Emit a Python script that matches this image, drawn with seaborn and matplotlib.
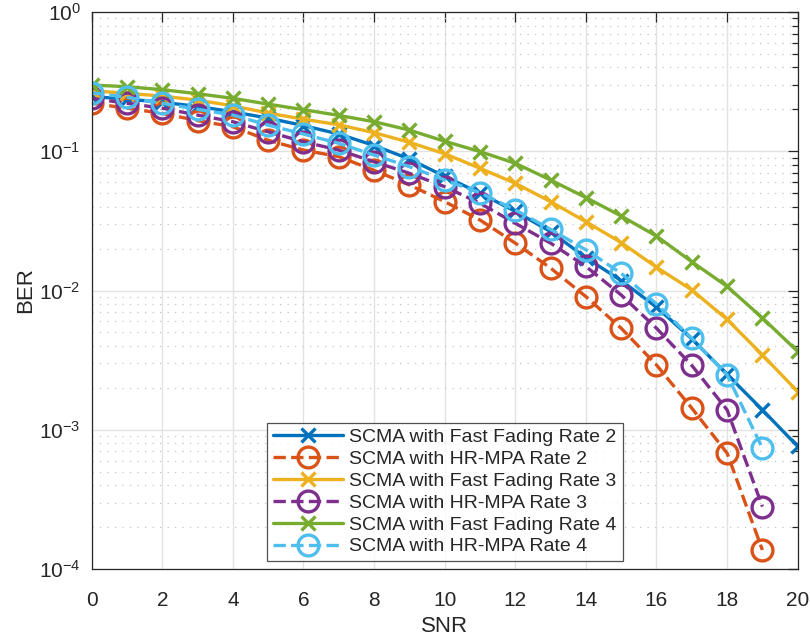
import numpy as np
import pandas as pd
import matplotlib
matplotlib.use("Agg")
import matplotlib.pyplot as plt
import seaborn as sns
from matplotlib.ticker import LogLocator, FixedLocator, NullFormatter

# SNR points
snr_ff = list(range(0, 21))
snr_hr = list(range(0, 20))

# BER, fast fading receivers
ber_ff_rate2 = [0.247, 0.237, 0.225, 0.210, 0.192, 0.173, 0.153, 0.133, 0.110, 0.088,
                0.066, 0.050, 0.037, 0.0265, 0.0172, 0.0118, 0.0076, 0.0045, 0.0025,
                0.00139, 0.00076]
ber_ff_rate3 = [0.272, 0.261, 0.249, 0.233, 0.212, 0.188, 0.170, 0.155, 0.136, 0.116,
                0.096, 0.0755, 0.0589, 0.0435, 0.0312, 0.0221, 0.0147, 0.0101, 0.0062,
                0.00345, 0.00188]
ber_ff_rate4 = [0.299, 0.291, 0.277, 0.259, 0.240, 0.218, 0.199, 0.181, 0.163, 0.142,
                0.118, 0.0995, 0.082, 0.0622, 0.0465, 0.0343, 0.0246, 0.0161, 0.0107,
                0.00636, 0.00365]

# BER, HR-MPA receivers
ber_hr_rate2 = [0.221, 0.204, 0.187, 0.166, 0.150, 0.120, 0.102, 0.0915, 0.073, 0.0573,
                0.0435, 0.0321, 0.0219, 0.0145, 0.00904, 0.00536, 0.00292, 0.00143,
                0.00068, 0.000137]
ber_hr_rate3 = [0.240, 0.221, 0.204, 0.182, 0.163, 0.138, 0.117, 0.102, 0.084, 0.0695,
                0.0557, 0.0423, 0.0304, 0.0219, 0.0149, 0.00929, 0.00536, 0.0029,
                0.00139, 0.000281]
ber_hr_rate4 = [0.263, 0.244, 0.221, 0.200, 0.182, 0.154, 0.133, 0.114, 0.094, 0.0775,
                0.0622, 0.0504, 0.0379, 0.0275, 0.0196, 0.0133, 0.0080, 0.00454,
                0.00248, 0.000738]

labels = ["SCMA with Fast Fading Rate 2", "SCMA with HR-MPA Rate 2",
          "SCMA with Fast Fading Rate 3", "SCMA with HR-MPA Rate 3",
          "SCMA with Fast Fading Rate 4", "SCMA with HR-MPA Rate 4"]

sns.set_style("white")
plt.rcParams["font.family"] = ["Liberation Sans", "DejaVu Sans"]
plt.rcParams["mathtext.default"] = "regular"

series = [
    (snr_ff, ber_ff_rate2, "#0072BD", "x", "-"),
    (snr_hr, ber_hr_rate2, "#D95319", "o", "--"),
    (snr_ff, ber_ff_rate3, "#EDB120", "x", "-"),
    (snr_hr, ber_hr_rate3, "#7E2F8E", "o", "--"),
    (snr_ff, ber_ff_rate4, "#77AC30", "x", "-"),
    (snr_hr, ber_hr_rate4, "#4DBEEE", "o", "--"),
]

fig = plt.figure(figsize=(8.1, 6.4), dpi=100)
ax = fig.add_axes([0.1132, 0.1109, 0.8716, 0.8703])

for (xs, ys, col, mk, ls), lab in zip(series, labels):
    df = pd.DataFrame({"SNR": xs, "BER": ys})
    kw = dict(color=col, marker=mk, linewidth=2.4, label=lab, ax=ax,
              markeredgewidth=2.4)
    if mk == "o":
        kw.update(markersize=15, markerfacecolor="none", markeredgecolor=col,
                  linestyle="--", dashes=(3.6, 2.4))
    else:
        kw.update(markersize=10, markeredgecolor=col, linestyle="-")
    sns.lineplot(data=df, x="SNR", y="BER", **kw)

ax.set_yscale("log")
ax.set_xlim(0, 20)
ax.set_ylim(1e-4, 1)
ax.xaxis.set_major_locator(FixedLocator(np.arange(0, 21, 2)))
ax.yaxis.set_major_locator(LogLocator(base=10, numticks=10))
ax.yaxis.set_minor_locator(LogLocator(base=10, subs=np.arange(2, 10), numticks=20))
ax.yaxis.set_minor_formatter(NullFormatter())

ax.grid(True, which="major", color="#e2e2e2", linewidth=1.0, linestyle="-")
ax.grid(True, which="minor", axis="y", color="#c4c4c4", linewidth=0.9,
        linestyle=(0, (1, 5)))
ax.set_axisbelow(True)

tick_col = "#262626"
ax.tick_params(axis="both", which="both", direction="in", top=True, right=True,
               colors=tick_col, labelsize=15, labelcolor=tick_col)
ax.tick_params(axis="both", which="major", length=7, width=0.9)
ax.tick_params(axis="y", which="minor", length=4, width=0.9)
ax.tick_params(axis="x", pad=16)
ax.tick_params(axis="y", pad=8)
for s in ax.spines.values():
    s.set_color(tick_col)
    s.set_linewidth(0.9)

ax.set_xlabel("SNR", fontsize=16, color=tick_col, labelpad=4)
ax.set_ylabel("BER", fontsize=16, color=tick_col, labelpad=2)

leg = ax.legend(loc="lower center", bbox_to_anchor=(0.5, 0.014), fontsize=14,
                frameon=True, fancybox=False, edgecolor="#262626",
                handlelength=3.6, handletextpad=0.35, borderpad=0.3,
                labelspacing=0.22, borderaxespad=0)
leg.get_frame().set_linewidth(0.9)

fig.savefig("out.png", dpi=100)
